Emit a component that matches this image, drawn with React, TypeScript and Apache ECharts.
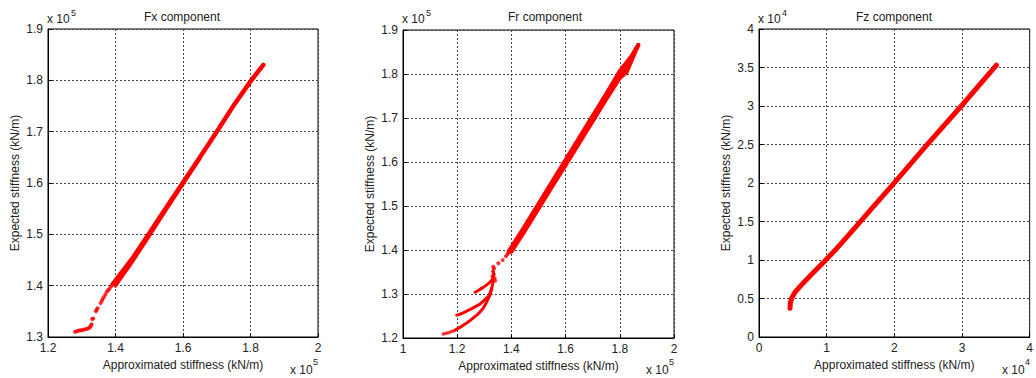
import React, { useEffect, useRef } from "react";
import * as echarts from "echarts";

// ---------- tick / axis setup (values shown in units of 10^exp) ----------
const panelTitles = ["Fx component", "Fr component", "Fz component"];
const exponents = ["5", "5", "4"];
const xRanges = [
  { min: 1.2, max: 2, interval: 0.2 },
  { min: 1, max: 2, interval: 0.2 },
  { min: 0, max: 4, interval: 1 },
];
const yRanges = [
  { min: 1.3, max: 1.9, interval: 0.1 },
  { min: 1.2, max: 1.9, interval: 0.1 },
  { min: 0, max: 4, interval: 0.5 },
];
const xName = "Approximated stiffness (kN/m)";
const yName = "Expected stiffness (kN/m)";

// ---------- Fx component (x 10^5) ----------
const fxTail: number[][] = [
  [1.28, 1.31], [1.285, 1.311], [1.29, 1.312], [1.295, 1.313], [1.3, 1.313],
  [1.305, 1.314], [1.31, 1.315], [1.315, 1.316], [1.32, 1.317], [1.324, 1.319],
  [1.327, 1.322], [1.329, 1.325], [1.331, 1.335], [1.334, 1.336],
  [1.342, 1.35], [1.344, 1.353], [1.347, 1.356], [1.356, 1.366], [1.359, 1.37],
  [1.362, 1.374], [1.366, 1.378], [1.37, 1.383], [1.374, 1.388], [1.378, 1.391],
  [1.382, 1.394], [1.386, 1.398], [1.39, 1.402], [1.394, 1.405],
];
const fxBand: number[][] = [
  [1.392, 1.403], [1.45, 1.453], [1.5, 1.502], [1.55, 1.552], [1.6, 1.601],
  [1.65, 1.65], [1.7, 1.7], [1.75, 1.751], [1.8, 1.798], [1.82, 1.815], [1.838, 1.83],
];
const fxFringe: number[][] = [
  [1.4, 1.399], [1.45, 1.446], [1.5, 1.496], [1.55, 1.547], [1.6, 1.597], [1.65, 1.647],
];

// ---------- Fr component (x 10^5) ----------
const frLowerDots: number[][] = [
  [1.149, 1.209], [1.158, 1.211], [1.167, 1.212], [1.176, 1.214], [1.185, 1.216],
];
const frLowerStrand: number[][] = [
  [1.192, 1.218], [1.21, 1.224], [1.222, 1.229], [1.235, 1.234], [1.248, 1.24],
  [1.26, 1.246], [1.272, 1.252], [1.284, 1.259], [1.295, 1.267], [1.303, 1.275],
  [1.312, 1.286], [1.321, 1.298], [1.327, 1.311], [1.331, 1.324], [1.333, 1.338],
  [1.334, 1.35],
];
const frMiddleStrand: number[][] = [
  [1.198, 1.252], [1.21, 1.254], [1.222, 1.257], [1.235, 1.261], [1.248, 1.265],
  [1.26, 1.269], [1.272, 1.273], [1.284, 1.277], [1.295, 1.283], [1.305, 1.289],
  [1.315, 1.295], [1.322, 1.303], [1.327, 1.313],
];
const frUpperStrand: number[][] = [
  [1.266, 1.304], [1.275, 1.307], [1.285, 1.311], [1.296, 1.315], [1.305, 1.319],
  [1.314, 1.323], [1.321, 1.327], [1.328, 1.332],
];
const frCluster: number[][] = [
  [1.33, 1.34], [1.335, 1.345], [1.332, 1.352], [1.336, 1.358], [1.333, 1.362],
  [1.338, 1.336], [1.34, 1.33], [1.352, 1.37], [1.368, 1.377], [1.38, 1.386],
  [1.386, 1.391], [1.39, 1.394],
];
const frBandUpper: number[][] = [
  [1.39, 1.397], [1.45, 1.455], [1.5, 1.505], [1.55, 1.555], [1.6, 1.605],
  [1.65, 1.655], [1.7, 1.705], [1.75, 1.755], [1.8, 1.807], [1.84, 1.838], [1.868, 1.866],
];
const frBandCenter: number[][] = [
  [1.395, 1.397], [1.5, 1.5], [1.6, 1.6], [1.7, 1.7], [1.8, 1.8], [1.83, 1.818], [1.868, 1.866],
];
const frBandLower: number[][] = [
  [1.4, 1.396], [1.45, 1.444], [1.5, 1.494], [1.55, 1.544], [1.6, 1.593],
  [1.65, 1.643], [1.7, 1.693], [1.75, 1.743], [1.8, 1.791], [1.825, 1.804], [1.868, 1.866],
];

// ---------- Fz component (x 10^4) ----------
const fzBand: number[][] = [
  [0.458, 0.373], [0.465, 0.45], [0.483, 0.503], [0.53, 0.58], [0.605, 0.654],
  [0.7, 0.745], [0.8, 0.835], [0.9, 0.922], [1.0, 1.012], [1.1, 1.104],
  [1.2, 1.2], [1.417, 1.418], [1.7, 1.703], [1.993, 1.996], [2.475, 2.49],
  [2.99, 3.0], [3.509, 3.532],
];

const RED = "#ff0000";
const FONT = "Liberation Sans";
const TEXT = "#222";

const grids = [
  { left: 48, top: 29, width: 270, height: 308 },
  { left: 403, top: 30, width: 271, height: 308 },
  { left: 759, top: 29, width: 271, height: 308 },
];
const titleCenters = [182, 545, 894];

function lineSeries(idx: number, data: number[][], width: number) {
  return {
    type: "line",
    xAxisIndex: idx,
    yAxisIndex: idx,
    data,
    showSymbol: false,
    symbol: "none",
    silent: true,
    lineStyle: { color: RED, width, cap: "round", join: "round" },
  };
}
function dotSeries(idx: number, data: number[][], size: number) {
  return {
    type: "scatter",
    xAxisIndex: idx,
    yAxisIndex: idx,
    data,
    symbol: "circle",
    symbolSize: size,
    silent: true,
    itemStyle: { color: RED },
  };
}

function txt(x: number, y: number, text: string, size: number, align: string) {
  return {
    type: "text",
    x,
    y,
    silent: true,
    style: {
      text,
      fill: TEXT,
      stroke: "none",
      lineWidth: 0,
      fontSize: size,
      fontFamily: FONT,
      fontWeight: "normal",
      align,
      verticalAlign: "top",
    },
  };
}

export default function App() {
  const ref = useRef<HTMLDivElement>(null);
  useEffect(() => {
    if (!ref.current) return;
    const chart = echarts.init(ref.current, null, { renderer: "svg" });
    const axisCommon = {
      type: "value",
      axisLine: { show: true, onZero: false, lineStyle: { color: "#000", width: 1 } },
      axisTick: { show: true, inside: true, length: 4, lineStyle: { color: "#000" } },
      splitLine: { show: true, lineStyle: { color: "#444", type: [2, 2], width: 1 } },
      nameLocation: "middle",
      nameTextStyle: { color: TEXT, fontSize: 12, fontFamily: FONT },
    };
    const xAxis = grids.map((_, i) => ({
      ...axisCommon,
      gridIndex: i,
      ...xRanges[i],
      name: xName,
      nameGap: 20,
      axisLabel: { color: TEXT, fontSize: 12, fontFamily: FONT, margin: 5 },
    }));
    const yAxis = grids.map((_, i) => ({
      ...axisCommon,
      gridIndex: i,
      ...yRanges[i],
      name: yName,
      nameGap: 27,
      axisLabel: { color: TEXT, fontSize: 12, fontFamily: FONT, margin: 5 },
    }));
    const graphic: any[] = [];
    grids.forEach((g, i) => {
      graphic.push(txt(titleCenters[i], 11, panelTitles[i], 12, "center"));
      graphic.push(txt(g.left - 1, 13, "x 10", 12, "left"));
      graphic.push(txt(g.left + 23, 8, exponents[i], 9, "left"));
      const right = g.left + g.width;
      graphic.push(txt(right - 28, 364, "x 10", 12, "left"));
      graphic.push(txt(right - 5, 357, exponents[i], 9, "left"));
    });
    const series: any[] = [
      lineSeries(0, fxBand, 4.5),
      lineSeries(0, fxFringe, 3),
      dotSeries(0, fxTail, 4),
      lineSeries(1, frBandUpper, 4),
      lineSeries(1, frBandCenter, 4),
      lineSeries(1, frBandLower, 4),
      dotSeries(1, frLowerDots, 3.5),
      lineSeries(1, frLowerStrand, 3),
      lineSeries(1, frMiddleStrand, 3),
      lineSeries(1, frUpperStrand, 3),
      dotSeries(1, frCluster, 4),
      lineSeries(2, fzBand, 5),
    ];
    chart.setOption({
      animation: false,
      backgroundColor: "#fff",
      grid: grids.map((g) => ({ ...g, show: true, borderColor: "#000", borderWidth: 1, backgroundColor: "transparent", containLabel: false })),
      xAxis,
      yAxis,
      series,
      graphic,
    });
    return () => chart.dispose();
  }, []);
  return (
    <div
      ref={ref}
      style={{ position: "fixed", left: 0, top: 0, width: 1036, height: 378, background: "#fff" }}
    />
  );
}
